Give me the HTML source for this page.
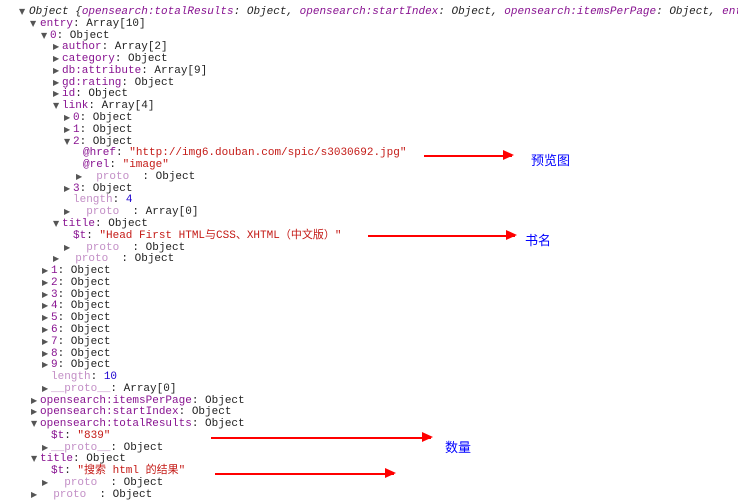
<!DOCTYPE html>
<html><head><meta charset="utf-8"><style>
html,body{margin:0;padding:0;background:#fff;width:738px;height:502px;overflow:hidden;position:relative}
.r{position:absolute;white-space:pre;font-family:"Liberation Mono","Noto Sans CJK SC",monospace;font-size:11px;line-height:12px;color:#222}
.k{color:#881391}.f{color:#c38fc6}.s{color:#c41a16}.n{color:#1c00cf}
.a{position:absolute;font-size:8px;color:#555;font-family:"DejaVu Sans",sans-serif;line-height:12px}
.ar{position:absolute;height:1.5px;background:#f00}
.ar:after{content:"";position:absolute;right:-2px;top:-5px;border-left:11px solid #f00;border-top:5.5px solid transparent;border-bottom:5.5px solid transparent}
.lb{position:absolute;color:#00f;font-family:"Noto Sans CJK SC",sans-serif;font-size:13px;line-height:14px}
</style></head><body>
<div class="a" style="left:19px;top:6px">▼</div><div class="r" style="left:29px;top:6px;font-style:italic">Object {<span class="k">opensearch:totalResults</span>: Object, <span class="k">opensearch:startIndex</span>: Object, <span class="k">opensearch:itemsPerPage</span>: Object, <span class="k">ent</span></div>
<div class="a" style="left:30px;top:18px">▼</div><div class="r" style="left:40px;top:18px"><span class="k">entry</span>: Array[10]</div>
<div class="a" style="left:41px;top:30px">▼</div><div class="r" style="left:50px;top:30px"><span class="k">0</span>: Object</div>
<div class="a" style="left:53px;top:41px">▶</div><div class="r" style="left:62px;top:41px"><span class="k">author</span>: Array[2]</div>
<div class="a" style="left:53px;top:53px">▶</div><div class="r" style="left:62px;top:53px"><span class="k">category</span>: Object</div>
<div class="a" style="left:53px;top:65px">▶</div><div class="r" style="left:62px;top:65px"><span class="k">db:attribute</span>: Array[9]</div>
<div class="a" style="left:53px;top:77px">▶</div><div class="r" style="left:62px;top:77px"><span class="k">gd:rating</span>: Object</div>
<div class="a" style="left:53px;top:88px">▶</div><div class="r" style="left:62px;top:88px"><span class="k">id</span>: Object</div>
<div class="a" style="left:53px;top:100px">▼</div><div class="r" style="left:62px;top:100px"><span class="k">link</span>: Array[4]</div>
<div class="a" style="left:64px;top:112px">▶</div><div class="r" style="left:73px;top:112px"><span class="k">0</span>: Object</div>
<div class="a" style="left:64px;top:124px">▶</div><div class="r" style="left:73px;top:124px"><span class="k">1</span>: Object</div>
<div class="a" style="left:64px;top:136px">▼</div><div class="r" style="left:73px;top:136px"><span class="k">2</span>: Object</div>
<div class="r" style="left:83px;top:147px"><span class="k">@href</span>: <span class="s">"http://img6.douban.com/spic/s3030692.jpg"</span></div>
<div class="r" style="left:83px;top:159px"><span class="k">@rel</span>: <span class="s">"image"</span></div>
<div class="a" style="left:76px;top:171px">▶</div><div class="r" style="left:83px;top:171px"><span class="f">  proto  </span>: Object</div>
<div class="a" style="left:64px;top:183px">▶</div><div class="r" style="left:73px;top:183px"><span class="k">3</span>: Object</div>
<div class="r" style="left:73px;top:194px"><span class="f">length</span>: <span class="n">4</span></div>
<div class="a" style="left:64px;top:206px">▶</div><div class="r" style="left:73px;top:206px"><span class="f">  proto  </span>: Array[0]</div>
<div class="a" style="left:53px;top:218px">▼</div><div class="r" style="left:62px;top:218px"><span class="k">title</span>: Object</div>
<div class="r" style="left:73px;top:230px"><span class="k">$t</span>: <span class="s">"Head First HTML与CSS、XHTML（中文版）"</span></div>
<div class="a" style="left:64px;top:242px">▶</div><div class="r" style="left:73px;top:242px"><span class="f">  proto  </span>: Object</div>
<div class="a" style="left:53px;top:253px">▶</div><div class="r" style="left:62px;top:253px"><span class="f">  proto  </span>: Object</div>
<div class="a" style="left:42px;top:265px">▶</div><div class="r" style="left:51px;top:265px"><span class="k">1</span>: Object</div>
<div class="a" style="left:42px;top:277px">▶</div><div class="r" style="left:51px;top:277px"><span class="k">2</span>: Object</div>
<div class="a" style="left:42px;top:289px">▶</div><div class="r" style="left:51px;top:289px"><span class="k">3</span>: Object</div>
<div class="a" style="left:42px;top:300px">▶</div><div class="r" style="left:51px;top:300px"><span class="k">4</span>: Object</div>
<div class="a" style="left:42px;top:312px">▶</div><div class="r" style="left:51px;top:312px"><span class="k">5</span>: Object</div>
<div class="a" style="left:42px;top:324px">▶</div><div class="r" style="left:51px;top:324px"><span class="k">6</span>: Object</div>
<div class="a" style="left:42px;top:336px">▶</div><div class="r" style="left:51px;top:336px"><span class="k">7</span>: Object</div>
<div class="a" style="left:42px;top:348px">▶</div><div class="r" style="left:51px;top:348px"><span class="k">8</span>: Object</div>
<div class="a" style="left:42px;top:359px">▶</div><div class="r" style="left:51px;top:359px"><span class="k">9</span>: Object</div>
<div class="r" style="left:51px;top:371px"><span class="f">length</span>: <span class="n">10</span></div>
<div class="a" style="left:42px;top:383px">▶</div><div class="r" style="left:51px;top:383px"><span class="f">__proto__</span>: Array[0]</div>
<div class="a" style="left:31px;top:395px">▶</div><div class="r" style="left:40px;top:395px"><span class="k">opensearch:itemsPerPage</span>: Object</div>
<div class="a" style="left:31px;top:406px">▶</div><div class="r" style="left:40px;top:406px"><span class="k">opensearch:startIndex</span>: Object</div>
<div class="a" style="left:31px;top:418px">▼</div><div class="r" style="left:40px;top:418px"><span class="k">opensearch:totalResults</span>: Object</div>
<div class="r" style="left:51px;top:430px"><span class="k">$t</span>: <span class="s">"839"</span></div>
<div class="a" style="left:42px;top:442px">▶</div><div class="r" style="left:51px;top:442px"><span class="f">__proto__</span>: Object</div>
<div class="a" style="left:31px;top:453px">▼</div><div class="r" style="left:40px;top:453px"><span class="k">title</span>: Object</div>
<div class="r" style="left:51px;top:465px"><span class="k">$t</span>: <span class="s">"搜索 html 的结果"</span></div>
<div class="a" style="left:42px;top:477px">▶</div><div class="r" style="left:51px;top:477px"><span class="f">  proto  </span>: Object</div>
<div class="a" style="left:31px;top:489px">▶</div><div class="r" style="left:40px;top:489px"><span class="f">  proto  </span>: Object</div>

<div class="ar" style="left:424px;top:155px;width:88px"></div>
<div class="lb" style="left:531px;top:153px">预览图</div>
<div class="ar" style="left:368px;top:235px;width:147px"></div>
<div class="lb" style="left:525px;top:233px">书名</div>
<div class="ar" style="left:211px;top:437px;width:220px"></div>
<div class="lb" style="left:445px;top:440px">数量</div>
<div class="ar" style="left:215px;top:473px;width:179px"></div>
</body></html>
